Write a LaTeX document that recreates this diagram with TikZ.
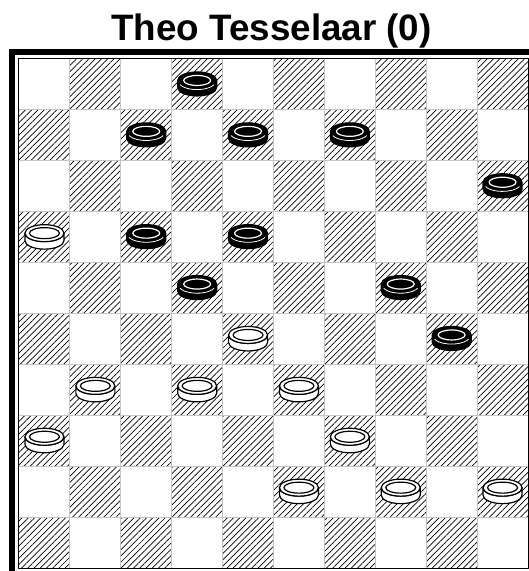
\documentclass[tikz,border=0pt]{standalone}
\usepackage{fontspec}
\setmainfont{Liberation Sans}
\usetikzlibrary{patterns.meta}
\definecolor{ink}{HTML}{000000}
\definecolor{grid}{HTML}{C4C4C4}
\definecolor{paper}{HTML}{FFFFFF}
\begin{document}
\begin{tikzpicture}[x=1pt,y=-1pt,line join=round,
  hatch/.style={pattern={Lines[angle=45,distance=4.4pt,line width=0.7pt]},pattern color=ink},
  pics/whiteman/.style={code={
    \filldraw[fill=paper,draw=ink,line width=1.2pt] (-19.5,-4) -- (-19.5,3.5) arc[start angle=180,end angle=360,x radius=19.5pt,y radius=8.5pt] -- (19.5,-4) arc[start angle=0,end angle=-180,x radius=19.5pt,y radius=8.5pt] -- cycle;
    \filldraw[fill=paper,draw=ink,line width=1.2pt] (0,-4) ellipse[x radius=19.5pt,y radius=8.5pt];
    \draw[ink,line width=1.2pt] (0,-4) ellipse[x radius=15pt,y radius=5.5pt];}},
  pics/blackman/.style={code={
    \filldraw[fill=ink,draw=ink,line width=1.2pt] (-19.5,-4) -- (-19.5,3) arc[start angle=180,end angle=360,x radius=19.5pt,y radius=8.5pt] -- (19.5,-4) arc[start angle=0,end angle=180,x radius=19.5pt,y radius=8.5pt] -- cycle;
    \draw[paper,line width=0.8pt] (-17,0.2) arc[start angle=200,end angle=340,x radius=18pt,y radius=7.5pt];
    \draw[paper,line width=1.2pt] (0,-4) ellipse[x radius=13.5pt,y radius=5pt];}}]
  \useasboundingbox (0,0) rectangle (529,571);
  \node[font=\bfseries\fontsize{36.8}{44}\selectfont,anchor=base,inner sep=0pt] (title) at (271.5,40) {Theo Tesselaar (0)};
  % frame
  \fill[ink] (9,49) rectangle (529,55);
  \fill[ink] (9,49) rectangle (15,571);
  % dark squares
  \foreach \r in {0,...,9}
    \foreach \c in {0,...,9}{
      \pgfmathtruncatemacro{\odd}{mod(\r+\c,2)}
      \ifnum\odd=1
        \fill[hatch] ({19+50.9*\c},{59+50.9*\r}) rectangle ({19+50.9*(\c+1)},{59+50.9*(\r+1)});
      \fi
    }
  \foreach \i in {1,...,9}{
    \draw[grid,line width=1pt] ({19+50.9*\i},59) -- ({19+50.9*\i},568);
    \draw[grid,line width=1pt] (19,{59+50.9*\i}) -- (528,{59+50.9*\i});
  }
  \draw[ink,line width=1pt] (18.5,58.5) rectangle (528.5,568.5);
  % pieces
  \foreach \c/\r in {3/0,2/1,4/1,6/1,9/2,2/3,4/3,3/4,7/4,8/5}
    \pic at ({19+50.9*(\c+0.5)},{59+50.9*(\r+0.5)}) {blackman};
  \foreach \c/\r in {0/3,4/5,1/6,3/6,5/6,0/7,6/7,5/8,7/8,9/8}
    \pic at ({19+50.9*(\c+0.5)},{59+50.9*(\r+0.5)}) {whiteman};
\end{tikzpicture}
\end{document}
